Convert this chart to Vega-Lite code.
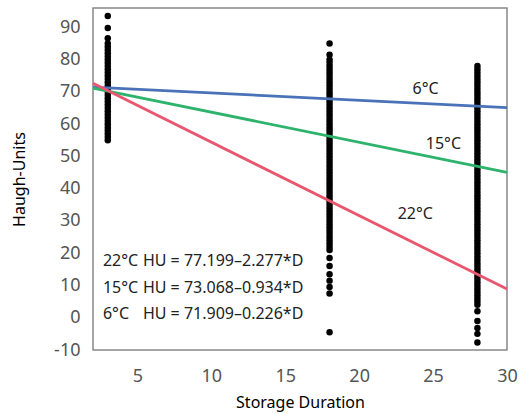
{
  "$schema": "https://vega.github.io/schema/vega-lite/v6.json",
  "width": 414,
  "height": 342,
  "autosize": "none",
  "padding": {"left": 93, "top": 8, "right": 15, "bottom": 64},
  "background": "white",
  "config": {
    "view": {"stroke": "#888", "strokeWidth": 1.5},
    "font": "Noto Sans",
    "axis": {"labelOverlap": false, "labelBound": false, "labelFlush": false},
    "axisY": {"labelOverlap": false},
    "axisX": {"labelOverlap": false}
  },
  "datasets": {
    "pts": [
      {"day": 3, "hu": 93.5}, {"day": 3, "hu": 89.8}, {"day": 3, "hu": 86.6},
      {"day": 3, "hu": 85}, {"day": 3, "hu": 84}, {"day": 3, "hu": 83}, {"day": 3, "hu": 82}, {"day": 3, "hu": 81}, {"day": 3, "hu": 80}, {"day": 3, "hu": 79}, {"day": 3, "hu": 78}, {"day": 3, "hu": 77}, {"day": 3, "hu": 76}, {"day": 3, "hu": 75}, {"day": 3, "hu": 74}, {"day": 3, "hu": 73}, {"day": 3, "hu": 72}, {"day": 3, "hu": 71}, {"day": 3, "hu": 70}, {"day": 3, "hu": 69}, {"day": 3, "hu": 68}, {"day": 3, "hu": 67}, {"day": 3, "hu": 66}, {"day": 3, "hu": 65}, {"day": 3, "hu": 64}, {"day": 3, "hu": 63}, {"day": 3, "hu": 62}, {"day": 3, "hu": 61}, {"day": 3, "hu": 60}, {"day": 3, "hu": 59}, {"day": 3, "hu": 58}, {"day": 3, "hu": 57}, {"day": 3, "hu": 56}, {"day": 3, "hu": 55},
      {"day": 18, "hu": 85}, {"day": 18, "hu": 81.5}, {"day": 18, "hu": 80}, {"day": 18, "hu": 79}, {"day": 18, "hu": 78}, {"day": 18, "hu": 77}, {"day": 18, "hu": 76}, {"day": 18, "hu": 75}, {"day": 18, "hu": 74}, {"day": 18, "hu": 73}, {"day": 18, "hu": 72}, {"day": 18, "hu": 71}, {"day": 18, "hu": 70}, {"day": 18, "hu": 69}, {"day": 18, "hu": 68}, {"day": 18, "hu": 67}, {"day": 18, "hu": 66}, {"day": 18, "hu": 65}, {"day": 18, "hu": 64}, {"day": 18, "hu": 63}, {"day": 18, "hu": 62}, {"day": 18, "hu": 61}, {"day": 18, "hu": 60}, {"day": 18, "hu": 59}, {"day": 18, "hu": 58}, {"day": 18, "hu": 57}, {"day": 18, "hu": 56}, {"day": 18, "hu": 55}, {"day": 18, "hu": 54}, {"day": 18, "hu": 53}, {"day": 18, "hu": 52}, {"day": 18, "hu": 51}, {"day": 18, "hu": 50}, {"day": 18, "hu": 49}, {"day": 18, "hu": 48}, {"day": 18, "hu": 47}, {"day": 18, "hu": 46}, {"day": 18, "hu": 45}, {"day": 18, "hu": 44}, {"day": 18, "hu": 43}, {"day": 18, "hu": 42}, {"day": 18, "hu": 41}, {"day": 18, "hu": 40}, {"day": 18, "hu": 39}, {"day": 18, "hu": 38}, {"day": 18, "hu": 37}, {"day": 18, "hu": 36}, {"day": 18, "hu": 35}, {"day": 18, "hu": 34}, {"day": 18, "hu": 33}, {"day": 18, "hu": 32}, {"day": 18, "hu": 31}, {"day": 18, "hu": 30}, {"day": 18, "hu": 29}, {"day": 18, "hu": 28}, {"day": 18, "hu": 27}, {"day": 18, "hu": 26}, {"day": 18, "hu": 25}, {"day": 18, "hu": 24}, {"day": 18, "hu": 23}, {"day": 18, "hu": 22}, {"day": 18, "hu": 21}, {"day": 18, "hu": 18.5}, {"day": 18, "hu": 16}, {"day": 18, "hu": 13.5}, {"day": 18, "hu": 11.5}, {"day": 18, "hu": 9.5}, {"day": 18, "hu": 7.5}, {"day": 18, "hu": -4.5},
      {"day": 28, "hu": 78}, {"day": 28, "hu": 77}, {"day": 28, "hu": 76}, {"day": 28, "hu": 75}, {"day": 28, "hu": 74}, {"day": 28, "hu": 73}, {"day": 28, "hu": 72}, {"day": 28, "hu": 71}, {"day": 28, "hu": 70}, {"day": 28, "hu": 69}, {"day": 28, "hu": 68}, {"day": 28, "hu": 67}, {"day": 28, "hu": 66}, {"day": 28, "hu": 65}, {"day": 28, "hu": 64}, {"day": 28, "hu": 63}, {"day": 28, "hu": 62}, {"day": 28, "hu": 61}, {"day": 28, "hu": 60}, {"day": 28, "hu": 59}, {"day": 28, "hu": 58}, {"day": 28, "hu": 57}, {"day": 28, "hu": 56}, {"day": 28, "hu": 55}, {"day": 28, "hu": 54}, {"day": 28, "hu": 53}, {"day": 28, "hu": 52}, {"day": 28, "hu": 51}, {"day": 28, "hu": 50}, {"day": 28, "hu": 49}, {"day": 28, "hu": 48}, {"day": 28, "hu": 47}, {"day": 28, "hu": 46}, {"day": 28, "hu": 45}, {"day": 28, "hu": 44}, {"day": 28, "hu": 43}, {"day": 28, "hu": 42}, {"day": 28, "hu": 41}, {"day": 28, "hu": 40}, {"day": 28, "hu": 39}, {"day": 28, "hu": 38}, {"day": 28, "hu": 37}, {"day": 28, "hu": 36}, {"day": 28, "hu": 35}, {"day": 28, "hu": 34}, {"day": 28, "hu": 33}, {"day": 28, "hu": 32}, {"day": 28, "hu": 31}, {"day": 28, "hu": 30}, {"day": 28, "hu": 29}, {"day": 28, "hu": 28}, {"day": 28, "hu": 27}, {"day": 28, "hu": 26}, {"day": 28, "hu": 25}, {"day": 28, "hu": 24}, {"day": 28, "hu": 23}, {"day": 28, "hu": 22}, {"day": 28, "hu": 21}, {"day": 28, "hu": 20}, {"day": 28, "hu": 19}, {"day": 28, "hu": 18}, {"day": 28, "hu": 17}, {"day": 28, "hu": 16}, {"day": 28, "hu": 15}, {"day": 28, "hu": 14}, {"day": 28, "hu": 13}, {"day": 28, "hu": 12}, {"day": 28, "hu": 11}, {"day": 28, "hu": 10}, {"day": 28, "hu": 9}, {"day": 28, "hu": 8}, {"day": 28, "hu": 7}, {"day": 28, "hu": 6}, {"day": 28, "hu": 5}, {"day": 28, "hu": 4}, {"day": 28, "hu": 2}, {"day": 28, "hu": -1}, {"day": 28, "hu": -3.2}, {"day": 28, "hu": -5}, {"day": 28, "hu": -7.7}
    ],
    "fits": [
      {"temp": "6°C", "day": 2, "hu": 71.46}, {"temp": "6°C", "day": 30, "hu": 65.13},
      {"temp": "15°C", "day": 2, "hu": 71.20}, {"temp": "15°C", "day": 30, "hu": 45.05},
      {"temp": "22°C", "day": 2, "hu": 72.64}, {"temp": "22°C", "day": 30, "hu": 8.89}
    ],
    "lineLabels": [
      {"label": "6°C", "day": 24.5, "hu": 71},
      {"label": "15°C", "day": 25.7, "hu": 54},
      {"label": "22°C", "day": 23.8, "hu": 32.2}
    ],
    "eqs": [
      {"temp": "22°C", "eq": "HU = 77.199–2.277*D", "day": 2.67, "hu": 17.6},
      {"temp": "15°C", "eq": "HU = 73.068–0.934*D", "day": 2.67, "hu": 9.3},
      {"temp": "6°C", "eq": "HU = 71.909–0.226*D", "day": 2.67, "hu": 1.2}
    ]
  },
  "encoding": {
    "x": {"field": "day", "type": "quantitative", "scale": {"domain": [2, 30], "nice": false, "zero": false},
      "axis": {"title": "Storage Duration", "values": [5, 10, 15, 20, 25, 30], "domain": false, "ticks": false, "grid": false, "labelFontSize": 18, "labelColor": "#555", "labelPadding": 17, "labelOverlap": false, "titleFontSize": 16, "titleFontWeight": "normal", "titleColor": "black", "titlePadding": 9}},
    "y": {"field": "hu", "type": "quantitative", "scale": {"domain": [-10, 96], "nice": false, "zero": false},
      "axis": {"title": "Haugh-Units", "values": [-10, 0, 10, 20, 30, 40, 50, 60, 70, 80, 90], "labelExpr": "'' + datum.value", "domain": false, "ticks": false, "grid": false, "labelFontSize": 18, "labelColor": "#555", "labelPadding": 13, "labelOverlap": false, "titleFontSize": 16, "titleFontWeight": "normal", "titleColor": "black", "titlePadding": 26}}
  },
  "layer": [
    {
      "data": {"name": "pts"},
      "mark": {"type": "circle", "color": "black", "opacity": 1, "size": 42}
    },
    {
      "data": {"name": "fits"},
      "mark": {"type": "line", "strokeWidth": 2.8},
      "encoding": {
        "detail": {"field": "temp"},
        "color": {"field": "temp", "type": "nominal", "scale": {"domain": ["6°C", "15°C", "22°C"], "range": ["#4a72b8", "#2db36b", "#e8566f"]}, "legend": null}
      }
    },
    {
      "data": {"name": "lineLabels"},
      "mark": {"type": "text", "fontSize": 16, "color": "#222", "align": "center", "baseline": "middle"},
      "encoding": {
        "text": {"field": "label"}
      }
    },
    {
      "data": {"name": "eqs"},
      "mark": {"type": "text", "fontSize": 16, "color": "#222", "align": "left", "baseline": "middle"},
      "encoding": {
        "text": {"field": "temp"}
      }
    },
    {
      "data": {"name": "eqs"},
      "mark": {"type": "text", "fontSize": 16, "color": "#222", "align": "left", "baseline": "middle", "dx": 40},
      "encoding": {
        "text": {"field": "eq"}
      }
    }
  ]
}
